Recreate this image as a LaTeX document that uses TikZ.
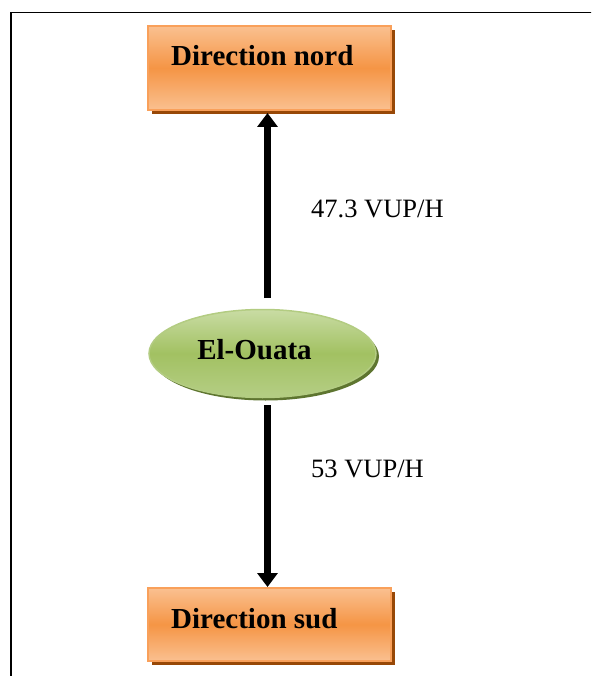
\documentclass[tikz,border=0pt]{standalone}
\usepackage{fontspec}
\setmainfont{Liberation Serif}
\usetikzlibrary{arrows.meta,shapes.geometric}
\definecolor{orshadow}{HTML}{984807}
\definecolor{ortop}{HTML}{FAC090}
\definecolor{ormid}{HTML}{F59545}
\definecolor{orborder}{HTML}{F9A05A}
\definecolor{grtop}{HTML}{C9DCA4}
\definecolor{grmid}{HTML}{A2C162}
\definecolor{grbot}{HTML}{B5CE85}
\definecolor{grborder}{HTML}{B3CC82}
\definecolor{grshadow}{HTML}{5E7530}
\tikzset{
  dirbox/.style={rectangle, minimum width=243pt, inner sep=0pt,
    draw=orborder, line width=2pt, top color=ortop, bottom color=ortop, middle color=ormid},
  boxshadow/.style={rectangle, minimum width=243pt, inner sep=0pt,
    fill=orshadow, draw=none},
  cityell/.style={ellipse, minimum width=227pt, minimum height=88pt, inner sep=0pt,
    draw=grborder, line width=1.5pt, top color=grtop, bottom color=grbot, middle color=grmid},
  ellshadow/.style={ellipse, minimum width=227pt, minimum height=88pt, inner sep=0pt,
    fill=grshadow, draw=none},
  boxtext/.style={inner sep=0pt, font=\fontsize{29}{32}\selectfont\bfseries},
  flowlabel/.style={inner sep=0pt, anchor=base west, font=\fontsize{26.5}{30}\selectfont},
  flowarrow/.style={line width=6.7pt, -{Triangle[width=20pt,length=14pt]}}
}
\begin{document}
\begin{tikzpicture}[x=1pt,y=-1pt]
\useasboundingbox (0,0) rectangle (591,676);
\clip (0,0) rectangle (591,676);
% frame
\draw[line width=1.8pt] (11,700) -- (11,12.5) -- (620,12.5);
% top box
\node[boxshadow, minimum height=84pt] (nordsh) at (273.5,72) {};
\node[dirbox, minimum height=84pt] (nord) at (269.5,68) {};
\node[boxtext, anchor=base west] (nordtxt) at (171,66) {Direction nord};
% bottom box
\node[boxshadow, minimum height=73pt] (sudsh) at (273.5,628.5) {};
\node[dirbox, minimum height=73pt] (sud) at (269.5,624.5) {};
\node[boxtext, anchor=base west] (sudtxt) at (171,628) {Direction sud};
% ellipse
\node[ellshadow] (ouatash) at (265.5,356.5) {};
\node[cityell] (ouata) at (262.5,353.5) {};
\node[boxtext, anchor=base] (ouatatxt) at (254.5,359) {El-Ouata};
% arrows
\coordinate (upstart) at (267.5,298);
\coordinate (upend) at (267.5,113);
\coordinate (dnstart) at (267.5,405);
\coordinate (dnend) at (267.5,587);
\draw[flowarrow] (upstart) -- (upend);
\draw[flowarrow] (dnstart) -- (dnend);
% labels
\node[flowlabel] (lblnord) at (311,217) {47.3 VUP/H};
\node[flowlabel] (lblsud) at (311,477) {53 VUP/H};
\end{tikzpicture}
\end{document}
